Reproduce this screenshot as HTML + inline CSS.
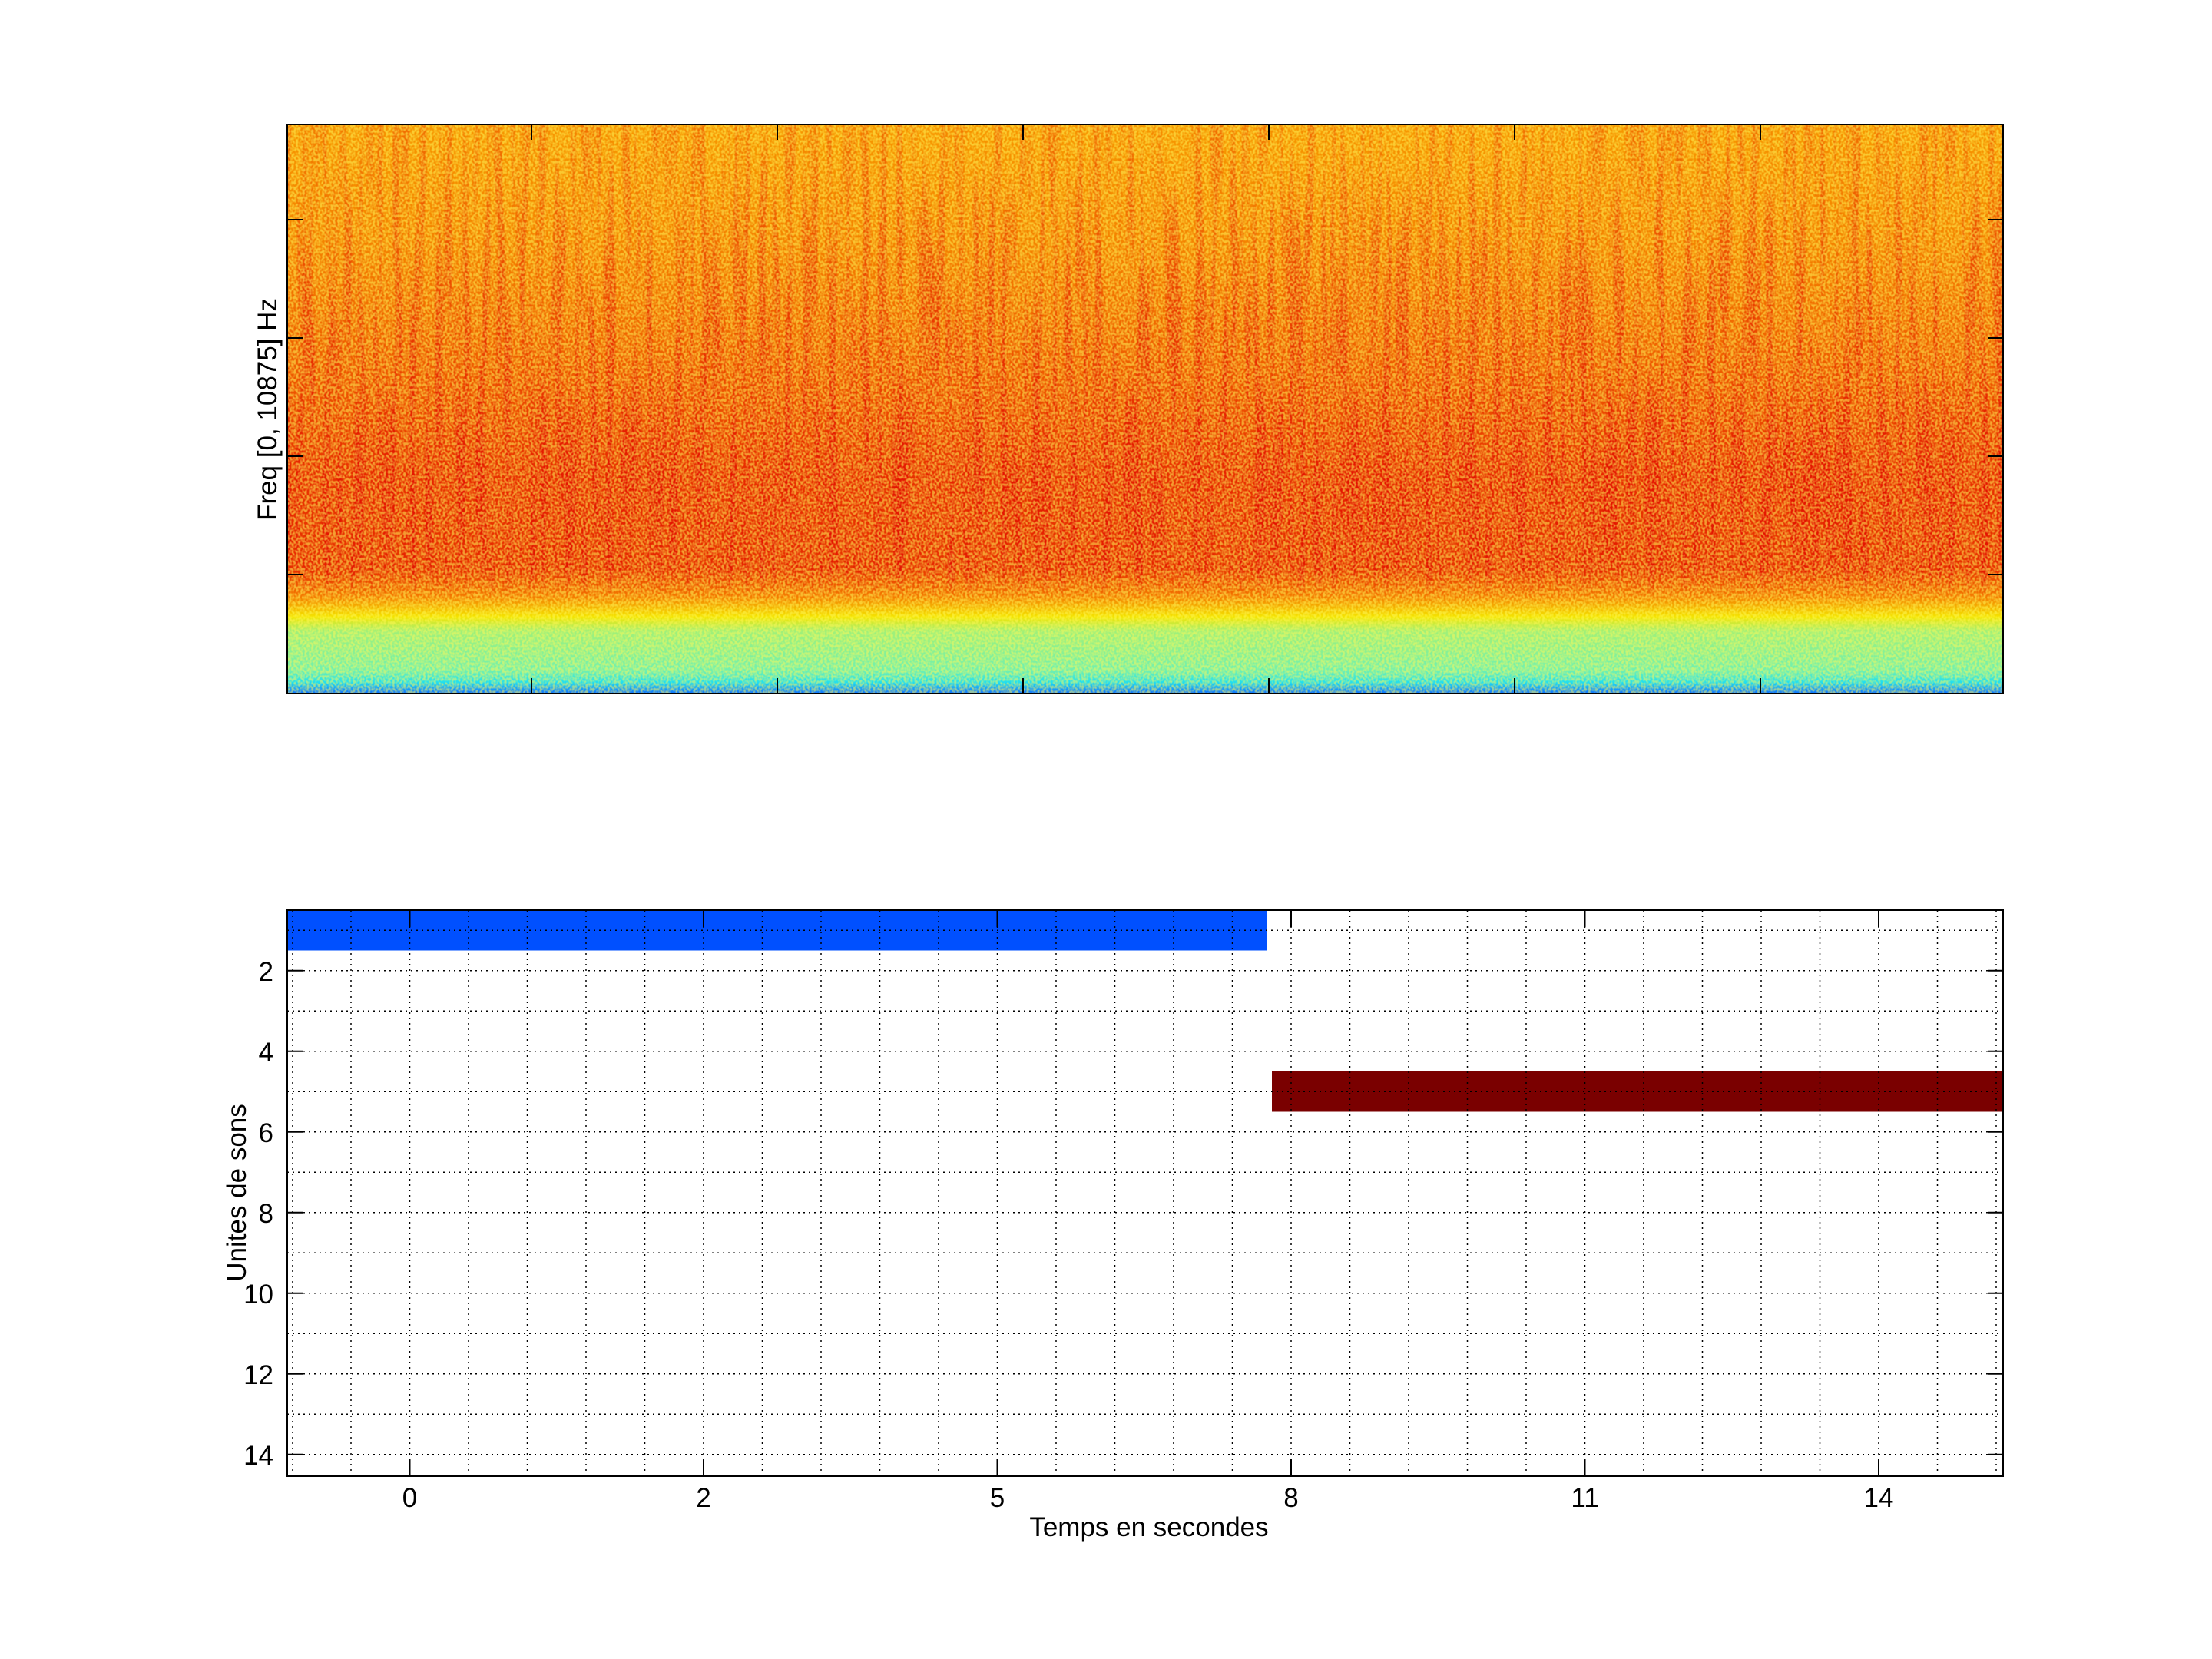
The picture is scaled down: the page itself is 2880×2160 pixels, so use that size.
<!DOCTYPE html>
<html><head><meta charset="utf-8"><style>
html,body{margin:0;padding:0;background:#fff;width:2880px;height:2160px;overflow:hidden}
svg text{font-family:"Liberation Sans",sans-serif;fill:#000}
</style></head><body>
<svg width="2880" height="2160" viewBox="0 0 2880 2160" xmlns="http://www.w3.org/2000/svg">
<defs>
<linearGradient id="bg" x1="0" y1="0" x2="0" y2="1">
<stop offset="0" stop-color="#f79800"/>
<stop offset="0.2" stop-color="#f48400"/>
<stop offset="0.45" stop-color="#ee5800"/>
<stop offset="0.62" stop-color="#e83000"/>
<stop offset="0.78" stop-color="#e83400"/>
<stop offset="0.83" stop-color="#f47c00"/>
<stop offset="0.865" stop-color="#f4e400"/>
<stop offset="0.89" stop-color="#a0f078"/>
<stop offset="0.96" stop-color="#70f0b0"/>
<stop offset="0.98" stop-color="#20e0f0"/>
<stop offset="1" stop-color="#1070ff"/>
</linearGradient>
<filter id="noise" x="0" y="0" width="100%" height="100%">
<feTurbulence type="fractalNoise" baseFrequency="0.35 0.3" numOctaves="1" seed="3"/>
<feColorMatrix type="matrix" values="0 0 0 0 1  0 0 0 0 0.95  0 0 0 0 0.1  0 0 0 -3.2 2.1"/>
</filter>
<filter id="streak" x="0" y="0" width="100%" height="100%">
<feTurbulence type="fractalNoise" baseFrequency="0.09 0.004" numOctaves="2" seed="7"/>
<feColorMatrix type="matrix" values="0 0 0 0 0.75  0 0 0 0 0  0 0 0 0 0  0 0 0 -4.5 2.5"/>
</filter>
<linearGradient id="sm" x1="0" y1="0" x2="0" y2="1">
<stop offset="0" stop-color="#fff" stop-opacity="0.35"/>
<stop offset="0.5" stop-color="#fff" stop-opacity="0.75"/>
<stop offset="0.78" stop-color="#fff" stop-opacity="0.9"/>
<stop offset="0.83" stop-color="#fff" stop-opacity="0"/>
<stop offset="1" stop-color="#fff" stop-opacity="0"/>
</linearGradient>
<mask id="m"><rect x="374" y="162" width="2234" height="741" fill="url(#sm)"/></mask>
</defs>
<rect x="374" y="162" width="2234" height="741" fill="url(#bg)"/>
<rect x="374" y="162" width="2234" height="741" filter="url(#streak)" mask="url(#m)" opacity="0.7"/>
<rect x="374" y="162" width="2234" height="741" filter="url(#noise)" opacity="0.55"/>
<rect x="374" y="162" width="2234" height="741" fill="none" stroke="#000" stroke-width="2"/>
<g stroke="#000" stroke-width="2">
<path d="M692 162v20M1012 162v20M1332 162v20M1652 162v20M1972 162v20M2292 162v20"/>
<path d="M692 903v-20M1012 903v-20M1332 903v-20M1652 903v-20M1972 903v-20M2292 903v-20"/>
<path d="M374 286h20M374 440h20M374 594h20M374 748h20M2608 286h-20M2608 440h-20M2608 594h-20M2608 748h-20"/>
</g>
<text transform="translate(360,533) rotate(-90)" font-size="35" text-anchor="middle">Freq [0, 10875] Hz</text>

<rect x="374" y="1185" width="2234" height="737" fill="#fff"/>
<rect x="374" y="1185" width="1276" height="52.5" fill="#0050ff"/>
<rect x="1656" y="1395" width="952" height="52.5" fill="#7a0000"/>
<g stroke="#000" stroke-width="1.5" stroke-dasharray="2,5" fill="none">
<path d="M381 1185V1922M457 1185V1922M533.5 1185V1922M610 1185V1922M686.5 1185V1922M763 1185V1922M839.5 1185V1922M916 1185V1922M992.5 1185V1922M1069 1185V1922M1145.5 1185V1922M1222 1185V1922M1298.5 1185V1922M1375 1185V1922M1451.5 1185V1922M1528 1185V1922M1604.5 1185V1922M1681 1185V1922M1757.5 1185V1922M1834 1185V1922M1910.5 1185V1922M1987 1185V1922M2063.5 1185V1922M2140 1185V1922M2216.5 1185V1922M2293 1185V1922M2369.5 1185V1922M2446 1185V1922M2522.5 1185V1922M2599 1185V1922"/>
<path d="M374 1211.3H2608M374 1263.8H2608M374 1316.3H2608M374 1368.8H2608M374 1421.3H2608M374 1473.8H2608M374 1526.3H2608M374 1578.8H2608M374 1631.3H2608M374 1683.8H2608M374 1736.3H2608M374 1788.8H2608M374 1841.3H2608M374 1893.8H2608"/>
</g>
<rect x="374" y="1185" width="2234" height="737" fill="none" stroke="#000" stroke-width="2"/>
<g stroke="#000" stroke-width="2">
<path d="M533.5 1922v-22M916 1922v-22M1298.5 1922v-22M1681 1922v-22M2063.5 1922v-22M2446 1922v-22"/>
<path d="M533.5 1185v22M916 1185v22M1298.5 1185v22M1681 1185v22M2063.5 1185v22M2446 1185v22"/>
<path d="M374 1263.8h20M374 1368.8h20M374 1473.8h20M374 1578.8h20M374 1683.8h20M374 1788.8h20M374 1893.8h20"/>
<path d="M2608 1263.8h-20M2608 1368.8h-20M2608 1473.8h-20M2608 1578.8h-20M2608 1683.8h-20M2608 1788.8h-20M2608 1893.8h-20"/>
</g>
<g font-size="35" text-anchor="end">
<text x="356" y="1277">2</text><text x="356" y="1382">4</text><text x="356" y="1487">6</text>
<text x="356" y="1592">8</text><text x="356" y="1697">10</text><text x="356" y="1802">12</text><text x="356" y="1907">14</text>
</g>
<g font-size="35" text-anchor="middle">
<text x="533.5" y="1962">0</text><text x="916" y="1962">2</text><text x="1298.5" y="1962">5</text>
<text x="1681" y="1962">8</text><text x="2063.5" y="1962">11</text><text x="2446" y="1962">14</text>
</g>
<text x="1496" y="2000" font-size="35" text-anchor="middle">Temps en secondes</text>
<text transform="translate(320,1553) rotate(-90)" font-size="35" text-anchor="middle">Unites de sons</text>
</svg>
</body></html>
